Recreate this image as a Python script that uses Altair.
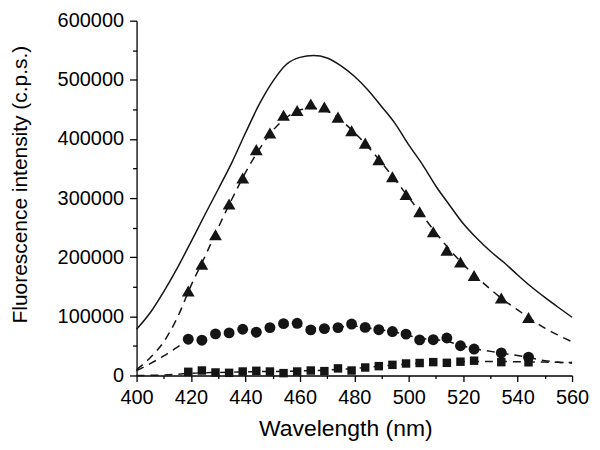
import altair as alt
import pandas as pd

FONT = "Liberation Sans"
INK = "#151515"

# ---- solid spectrum (no markers) ----
solid_wl = [400, 405, 410, 415, 420, 425, 430, 435, 440, 445, 450, 455, 460, 465, 470, 475,
            480, 485, 490, 495, 500, 505, 510, 515, 520, 525, 530, 535, 540, 545, 550, 555, 560]
solid_val = [78000, 106000, 142000, 182000, 226000, 271000, 315000, 360000, 410000, 458000,
             497000, 526000, 538000, 541000, 537000, 524000, 506000, 483000, 455000, 426000,
             390000, 357000, 320000, 288000, 257000, 232000, 210000, 191000, 170000, 150000,
             132000, 115000, 98500]

# ---- marker series ----
mk_wl = [419, 424, 429, 434, 439, 444, 449, 454, 459, 464, 469, 474, 479, 484, 489, 494,
         499, 504, 509, 514, 519, 524, 534, 544]
tri_val = [143000, 188000, 238000, 290000, 334000, 382000, 410000, 440000, 448000, 459000,
           454000, 437000, 414000, 393000, 365000, 336000, 306000, 277000, 243000, 212000,
           192000, 169000, 131000, 98000]
circ_val = [61400, 59700, 70300, 72000, 78200, 73200, 81000, 87700, 88300, 77100, 79300,
            81000, 87000, 81300, 77400, 74300, 70000, 60200, 60500, 63400, 50300, 44700,
            38300, 31000]
sq_val = [6200, 8400, 5100, 4500, 6700, 7900, 6700, 4000, 6700, 8400, 7400, 12000, 8400,
          13500, 15800, 18000, 20300, 21100, 22600, 21400, 23300, 25000, 22600, 22300]

# ---- dashed fit curves ----
tri_fit_wl = solid_wl
tri_fit_val = [10000, 30000, 57000, 98000, 152000, 200000, 250000, 298000, 343000, 382000,
               414000, 436000, 449000, 452000, 447000, 432000, 411000, 387000, 360000, 331000,
               301000, 271000, 241000, 213000, 188000, 166000, 146000, 127000, 111000, 95000,
               80000, 68000, 57000]

circ_fit_wl = [400, 405, 410, 415, 419, 424, 429, 434, 439, 444, 449, 454, 459, 464, 469, 474,
               479, 484, 489, 494, 499, 504, 509, 514, 519, 524, 534, 544, 550, 555, 560]
circ_fit_val = [8000, 20000, 33000, 48000, 59000, 63000, 68000, 72000, 75000, 76000, 80000,
                84000, 85000, 80000, 79500, 81500, 84000, 81000, 77500, 74000, 69000, 63000,
                61000, 58000, 51000, 45500, 38000, 30500, 25000, 22500, 21000]

sq_fit_wl = circ_fit_wl
sq_fit_val = [0, 300, 800, 2000, 3500, 4500, 5000, 5500, 6000, 6500, 6800, 7000, 7500, 8200,
              9000, 10200, 11500, 13300, 15500, 17500, 19300, 20700, 21800, 22600, 23300,
              23700, 23600, 23000, 22600, 22200, 21800]

# ---- axis ticks ----
x_ticks = [400, 420, 440, 460, 480, 500, 520, 540, 560]
x_minor = [410, 430, 450, 470, 490, 510, 530, 550]
y_ticks = [0, 100000, 200000, 300000, 400000, 500000, 600000]
y_minor = [50000, 150000, 250000, 350000, 450000, 550000]


def frame(wl, v):
    return pd.DataFrame({"wl": wl, "v": v})


xs = alt.Scale(domain=[400, 560], nice=False, zero=False)
ys = alt.Scale(domain=[0, 600000], nice=False)

x_axis = alt.Axis(values=x_ticks, format="d", title="Wavelength (nm)", orient="bottom",
                  tickSize=6, labelPadding=6, labelFlush=False, labelOverlap=False,
                  titleX=209.5, titleY=42)
y_axis = alt.Axis(values=y_ticks, format="d", title="Fluorescence intensity (c.p.s.)",
                  orient="left", tickSize=7, labelPadding=6, labelFlush=False,
                  labelOverlap=False, titleX=-106, titleY=164)
x_axis_minor = alt.Axis(values=x_minor, labels=False, domain=False, tickSize=3,
                        orient="bottom", title="")
y_axis_minor = alt.Axis(values=y_minor, labels=False, domain=False, tickSize=4,
                        orient="left", title="")


def enc(ch):
    return ch.encode(x=alt.X("wl:Q", scale=xs, axis=x_axis),
                     y=alt.Y("v:Q", scale=ys, axis=y_axis))


dash = [8, 6]
solid = enc(alt.Chart(frame(solid_wl, solid_val)).mark_line(
    color=INK, strokeWidth=1.5, interpolate="monotone"))
tri_fit = enc(alt.Chart(frame(tri_fit_wl, tri_fit_val)).mark_line(
    color=INK, strokeWidth=1.5, strokeDash=dash, interpolate="monotone"))
circ_fit = enc(alt.Chart(frame(circ_fit_wl, circ_fit_val)).mark_line(
    color=INK, strokeWidth=1.5, strokeDash=dash, interpolate="monotone"))
sq_fit = enc(alt.Chart(frame(sq_fit_wl, sq_fit_val)).mark_line(
    color=INK, strokeWidth=1.5, strokeDash=dash, interpolate="monotone"))
tri_pts = enc(alt.Chart(frame(mk_wl, tri_val)).mark_point(
    shape="triangle-up", filled=True, size=165, color=INK, opacity=1))
circ_pts = enc(alt.Chart(frame(mk_wl, circ_val)).mark_point(
    shape="circle", filled=True, size=120, color=INK, opacity=1))
sq_pts = enc(alt.Chart(frame(mk_wl, sq_val)).mark_point(
    shape="square", filled=True, size=72, color=INK, opacity=1))

inner = alt.layer(solid, tri_fit, circ_fit, sq_fit, tri_pts, circ_pts, sq_pts)

minor = alt.Chart(frame(solid_wl, solid_val)).mark_line(opacity=0).encode(
    x=alt.X("wl:Q", scale=xs, axis=x_axis_minor),
    y=alt.Y("v:Q", scale=ys, axis=y_axis_minor))

chart = alt.layer(inner, minor).resolve_axis(
    x="independent", y="independent"
).properties(
    width=437, height=356,
    padding={"left": 129, "top": 12, "right": 20, "bottom": 66},
    autosize=alt.AutoSizeParams(type="none"),
    background="white",
).configure_axis(
    domainColor="black", domainWidth=1.3, tickColor="black", tickWidth=1.3,
    labelFont=FONT, labelFontSize=20, labelColor="black",
    titleFont=FONT, titleColor="black", titleFontWeight="normal", grid=False,
).configure_axisX(titleFontSize=23).configure_axisY(titleFontSize=21).configure_view(
    strokeWidth=0
)

chart.save("out.html", embed_options={"renderer": "svg", "actions": False})
